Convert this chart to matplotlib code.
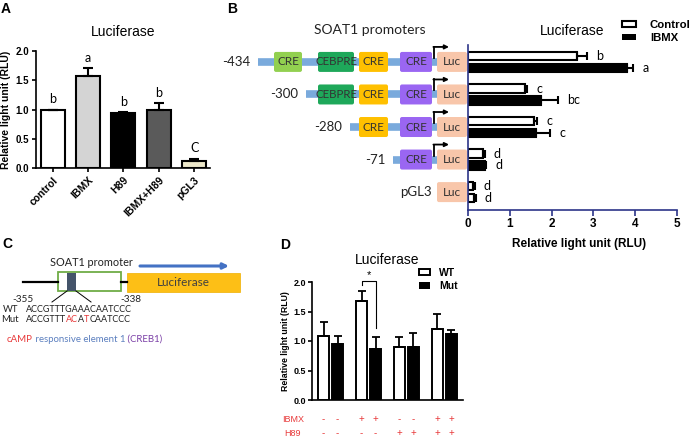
import numpy as np
import matplotlib
matplotlib.use('Agg')
import matplotlib.pyplot as plt
import matplotlib.transforms as mtransforms
from matplotlib.patches import FancyBboxPatch, Rectangle, Patch

plt.rcParams['font.family'] = ['Liberation Sans', 'DejaVu Sans']
CAL = 'Lato'  # stand-in for Calibri

W, H = 696, 437

# ---- panel A data
a_labels = ['control', 'IBMX', 'H89', 'IBMX+H89', 'pGL3']
a_values = [1.0, 1.57, 0.94, 1.0, 0.12]
a_err = [0.0, 0.14, 0.02, 0.11, 0.04]
a_letters = ['b', 'a', 'b', 'b', 'C']
a_colors = ['white', '#d4d4d4', 'black', '#5a5a5a', '#ece7c9']

# ---- panel B data
b_constructs = ['-434', '-300', '-280', '-71', 'pGL3']
b_control = [2.6, 1.37, 1.58, 0.37, 0.13]
b_control_err = [0.25, 0.05, 0.07, 0.03, 0.03]
b_ibmx = [3.8, 1.75, 1.63, 0.41, 0.15]
b_ibmx_err = [0.15, 0.40, 0.33, 0.03, 0.03]
b_control_letters = ['b', 'c', 'c', 'd', 'd']
b_ibmx_letters = ['a', 'bc', 'c', 'd', 'd']
b_elements = [['CRE1', 'CEBPRE', 'CRE2', 'CRE3'],
              ['CEBPRE', 'CRE2', 'CRE3'],
              ['CRE2', 'CRE3'],
              ['CRE3'],
              []]

# ---- panel D data
d_wt = [1.08, 1.67, 0.89, 1.21]
d_wt_err = [0.25, 0.18, 0.18, 0.25]
d_mut = [0.95, 0.86, 0.89, 1.12]
d_mut_err = [0.14, 0.20, 0.25, 0.07]
d_ibmx = ['-', '+', '-', '+']
d_h89 = ['-', '-', '+', '+']

fig = plt.figure(figsize=(W / 100, H / 100), dpi=100)

# overlay in pixel coordinates for the schematics and panel letters
ov = fig.add_axes([0, 0, 1, 1])
ov.set_xlim(0, W)
ov.set_ylim(H, 0)
ov.axis('off')


def px_axes(x0, y0, x1, y1):
    return fig.add_axes([x0 / W, 1 - y1 / H, (x1 - x0) / W, (y1 - y0) / H])


def style_axes(ax, color='black'):
    for s in ['top', 'right']:
        ax.spines[s].set_visible(False)
    for s in ['left', 'bottom']:
        ax.spines[s].set_linewidth(1.2)
        ax.spines[s].set_color(color)


for lab, x, y in [('A', 6, 9), ('B', 232, 9), ('C', 7, 244), ('D', 285, 245)]:
    ov.text(x, y, lab, ha='center', va='center', fontsize=10, fontweight='bold')

# ================= panel A
axA = px_axes(36, 51, 210, 168)
xa = np.arange(len(a_labels))
axA.bar(xa, a_values, width=0.68, color=a_colors, edgecolor='black', linewidth=1.5, zorder=2)
axA.errorbar(xa, a_values, yerr=[np.zeros(len(xa)), a_err], fmt='none', ecolor='black',
             elinewidth=1.5, capsize=3.5, capthick=1.5, zorder=3)
for i in range(len(xa)):
    axA.annotate(a_letters[i], (xa[i], a_values[i] + a_err[i]), xytext=(0, 3),
                 textcoords='offset points', ha='center', va='bottom', fontsize=9, family=CAL)
axA.set_xlim(-0.47, 4.45)
axA.set_ylim(0, 2)
axA.set_yticks([0, 0.5, 1.0, 1.5, 2.0])
axA.set_yticklabels(['0.0', '0.5', '1.0', '1.5', '2.0'], fontsize=7, fontweight='bold')
axA.set_xticks(xa)
axA.set_xticklabels(a_labels, rotation=45, ha='right', rotation_mode='anchor',
                    fontsize=7.5, fontweight='bold')
axA.tick_params(length=3, width=1.2, pad=2)
style_axes(axA)
axA.set_ylabel('Relative light unit (RLU)', fontsize=7.5, fontweight='bold', labelpad=3)
axA.set_title('Luciferase', fontsize=10, pad=11)

# ================= panel B bars
navy = '#2c3589'
axB = px_axes(468, 45, 677, 210)
yb = np.arange(len(b_constructs))
off, hb = 0.18, 0.26
ibmx_cols = ['black'] * 4 + ['white']
axB.barh(yb - off, b_control, height=hb, color='white', edgecolor='black', linewidth=1.5, zorder=2)
axB.barh(yb + off, b_ibmx, height=hb, color=ibmx_cols, edgecolor='black', linewidth=1.5, zorder=2)
axB.errorbar(b_control, yb - off, xerr=[np.zeros(5), b_control_err], fmt='none', ecolor='black',
             elinewidth=1.5, capsize=3, capthick=1.5, zorder=3)
axB.errorbar(b_ibmx, yb + off, xerr=[np.zeros(5), b_ibmx_err], fmt='none', ecolor='black',
             elinewidth=1.5, capsize=3, capthick=1.5, zorder=3)
for i in range(5):
    axB.text(b_control[i] + b_control_err[i] + 0.22, yb[i] - off, b_control_letters[i],
             va='center', ha='left', fontsize=9, family=CAL)
    axB.text(b_ibmx[i] + b_ibmx_err[i] + 0.22, yb[i] + off, b_ibmx_letters[i],
             va='center', ha='left', fontsize=9, family=CAL)
axB.set_xlim(0, 5)
axB.set_ylim(4.55, -0.52)
axB.set_yticks([])
axB.set_xticks(range(6))
axB.set_xticklabels([str(v) for v in range(6)], fontsize=8.5, fontweight='bold')
axB.tick_params(axis='x', length=4, width=1.2, color=navy, pad=2)
style_axes(axB, navy)
axB.set_xlabel('Relative light unit (RLU)', fontsize=8.5, fontweight='bold', labelpad=3)
axB.xaxis.set_label_coords((579 - 468) / 209, -0.17)
axB.set_title('Luciferase', fontsize=10, pad=7)
axB.legend([Patch(facecolor='white', edgecolor='black', linewidth=1.5), Patch(facecolor='black')],
           ['Control', 'IBMX'], loc='upper left', bbox_to_anchor=(622 / W, 1 - 20 / H),
           bbox_transform=fig.transFigure, frameon=False, prop=dict(weight='bold', size=8.2),
           handlelength=1.25, handleheight=0.5, handletextpad=1.2, labelspacing=0.25,
           borderpad=0, borderaxespad=0)

# ================= panel B schematic
ov.text(370, 30, 'SOAT1 promoters', ha='center', va='center', fontsize=10, family=CAL, color='#222222')
elements = {
    'CRE1': (274, 302, '#92d050', 'CRE'),
    'CEBPRE': (318, 354, '#1ea85a', 'CEBPRE'),
    'CRE2': (359, 388, '#ffc000', 'CRE'),
    'CRE3': (400, 432, '#9a66f2', 'CRE'),
}
line_start = {'-434': 258, '-300': 306, '-280': 350, '-71': 393}
luc_x0, luc_x1 = 437, 467


def box(x0, x1, yc, h, color, text, fs=8.5):
    ov.add_patch(FancyBboxPatch((x0, yc - h / 2), x1 - x0, h,
                                boxstyle='round,pad=0,rounding_size=2', fc=color, ec='none', zorder=3))
    ov.text((x0 + x1) / 2, yc, text, ha='center', va='center', fontsize=fs, family=CAL,
            color='#333333', zorder=4)


for i, name in enumerate(b_constructs):
    yc = H - axB.transData.transform((0, yb[i]))[1]
    if name in line_start:
        xs = line_start[name]
        ov.plot([xs, luc_x0], [yc, yc], color='#7aaadc', lw=5.5, solid_capstyle='butt', zorder=2)
        ov.text(xs - 8, yc, name, ha='right', va='center', fontsize=9.5, family=CAL, color='#222222')
        ov.plot([434, 434], [yc - 4, yc - 15], color='black', lw=1.3, zorder=4)
        ov.annotate('', xy=(449, yc - 15), xytext=(433.4, yc - 15),
                    arrowprops=dict(arrowstyle='-|>', color='black', lw=1.3, mutation_scale=6,
                                    shrinkA=0, shrinkB=0), zorder=4)
    else:
        ov.text(432, yc, name, ha='right', va='center', fontsize=9.5, family=CAL, color='#222222')
    for el in b_elements[i]:
        x0, x1, c, t = elements[el]
        box(x0, x1, yc, 20, c, t, fs=8.5 if t == 'CRE' else 8.3)
    box(luc_x0, luc_x1, yc, 20, '#f8c6aa', 'Luc')

# ================= panel C schematic
ov.text(91, 262, 'SOAT1 promoter', ha='center', va='center', fontsize=7.8, family=CAL, color='#222222')
ov.annotate('', xy=(229, 266), xytext=(140, 266),
            arrowprops=dict(arrowstyle='-|>', color='#4472c4', lw=2.2, mutation_scale=8,
                            shrinkA=0, shrinkB=0))
ov.plot([23, 58], [282, 282], color='black', lw=1.6)
ov.plot([121, 127], [282, 282], color='black', lw=1.6)
ov.add_patch(Rectangle((58, 272), 63, 19, fc='white', ec='#70ad47', lw=1.3))
ov.add_patch(Rectangle((67, 272.5), 9, 18, fc='#44546a', ec='none'))
ov.add_patch(Rectangle((127, 273), 113, 19, fc='#fdbf16', ec='#f0b000', lw=0.5))
ov.text(183, 282.5, 'Luciferase', ha='center', va='center', fontsize=8.5, family=CAL, color='#404040')
ov.plot([67, 52], [291, 302], color='black', lw=0.7)
ov.plot([76, 91], [291, 302], color='black', lw=0.7)
ov.text(23, 300, '-355', ha='center', va='center', fontsize=7.2, family=CAL, color='#222222')
ov.text(131, 300, '-338', ha='center', va='center', fontsize=7.2, family=CAL, color='#222222')


def chain(x, y, parts, fs):
    t = ov.text(x, y, parts[0][0], color=parts[0][1], fontsize=fs, va='center', ha='left', family=CAL)
    for s, c in parts[1:]:
        t = ov.annotate(s, xy=(1, 0), xycoords=t, va='bottom', ha='left', color=c,
                        fontsize=fs, family=CAL)


ov.text(3, 310, 'WT', ha='left', va='center', fontsize=6.8, family=CAL, color='#222222')
ov.text(1, 320, 'Mut', ha='left', va='center', fontsize=6.8, family=CAL, color='#222222')
chain(26, 310, [('ACCGTTTGAAACAATCCC', '#222222')], 6.5)
red = '#e8393a'
chain(26, 320, [('ACCGTTT', '#222222'), ('AC', red), ('A', '#222222'), ('T', red),
                ('CAATCCC', '#222222')], 6.5)
chain(7, 339, [('cAMP', red), (' responsive element 1', '#5b7fbf'), (' (CREB1)', '#7a3fa6')], 6.9)

# ================= panel D
axD = px_axes(312, 282, 463, 400)
xd = np.arange(len(d_wt))
od, wd = 0.184, 0.29
axD.bar(xd - od, d_wt, width=wd, color='white', edgecolor='black', linewidth=1.4, zorder=2)
axD.bar(xd + od, d_mut, width=wd, color='black', edgecolor='black', linewidth=1.4, zorder=2)
axD.errorbar(xd - od, d_wt, yerr=[np.zeros(4), d_wt_err], fmt='none', ecolor='black',
             elinewidth=1.3, capsize=3, capthick=1.3, zorder=3)
axD.errorbar(xd + od, d_mut, yerr=[np.zeros(4), d_mut_err], fmt='none', ecolor='black',
             elinewidth=1.3, capsize=3, capthick=1.3, zorder=3)
# significance bracket between WT and Mut under IBMX
axD.plot([1 - od, 1 - od, 1 + od, 1 + od], [1.95, 2.02, 2.02, 1.22], color='black', lw=0.8,
         clip_on=False)
axD.text(1, 2.04, '*', ha='center', va='bottom', fontsize=8)
axD.set_xlim(-0.49, 3.49)
axD.set_ylim(0, 2)
axD.set_yticks([0, 0.5, 1.0, 1.5, 2.0])
axD.set_yticklabels(['0.0', '0.5', '1.0', '1.5', '2.0'], fontsize=6.5, fontweight='bold')
axD.set_xticks([])
axD.tick_params(length=3, width=1.2, pad=1.5)
style_axes(axD)
axD.set_ylabel('Relative light unit (RLU)', fontsize=6.3, fontweight='bold', labelpad=2)
axD.set_title('Luciferase', fontsize=10, pad=13)
axD.legend([Patch(facecolor='white', edgecolor='black', linewidth=1.4), Patch(facecolor='black')],
           ['WT', 'Mut'], loc='upper left', bbox_to_anchor=(419 / W, 1 - 268 / H),
           bbox_transform=fig.transFigure, frameon=False, prop=dict(weight='bold', size=7.5),
           handlelength=1.05, handleheight=0.55, handletextpad=0.85, labelspacing=0.3,
           borderpad=0, borderaxespad=0)
tr = mtransforms.blended_transform_factory(axD.transData, axD.transAxes)
for g in range(len(xd)):
    for xx in (xd[g] - od, xd[g] + od):
        axD.text(xx, -0.16, d_ibmx[g], transform=tr, ha='center', va='center', fontsize=7, color=red)
        axD.text(xx, -0.28, d_h89[g], transform=tr, ha='center', va='center', fontsize=7, color=red)
ov.text(282, 419, 'IBMX', ha='left', va='center', fontsize=6.5, color=red)
ov.text(284, 433, 'H89', ha='left', va='center', fontsize=6.5, color=red)

fig.savefig('out.png', dpi=100)
